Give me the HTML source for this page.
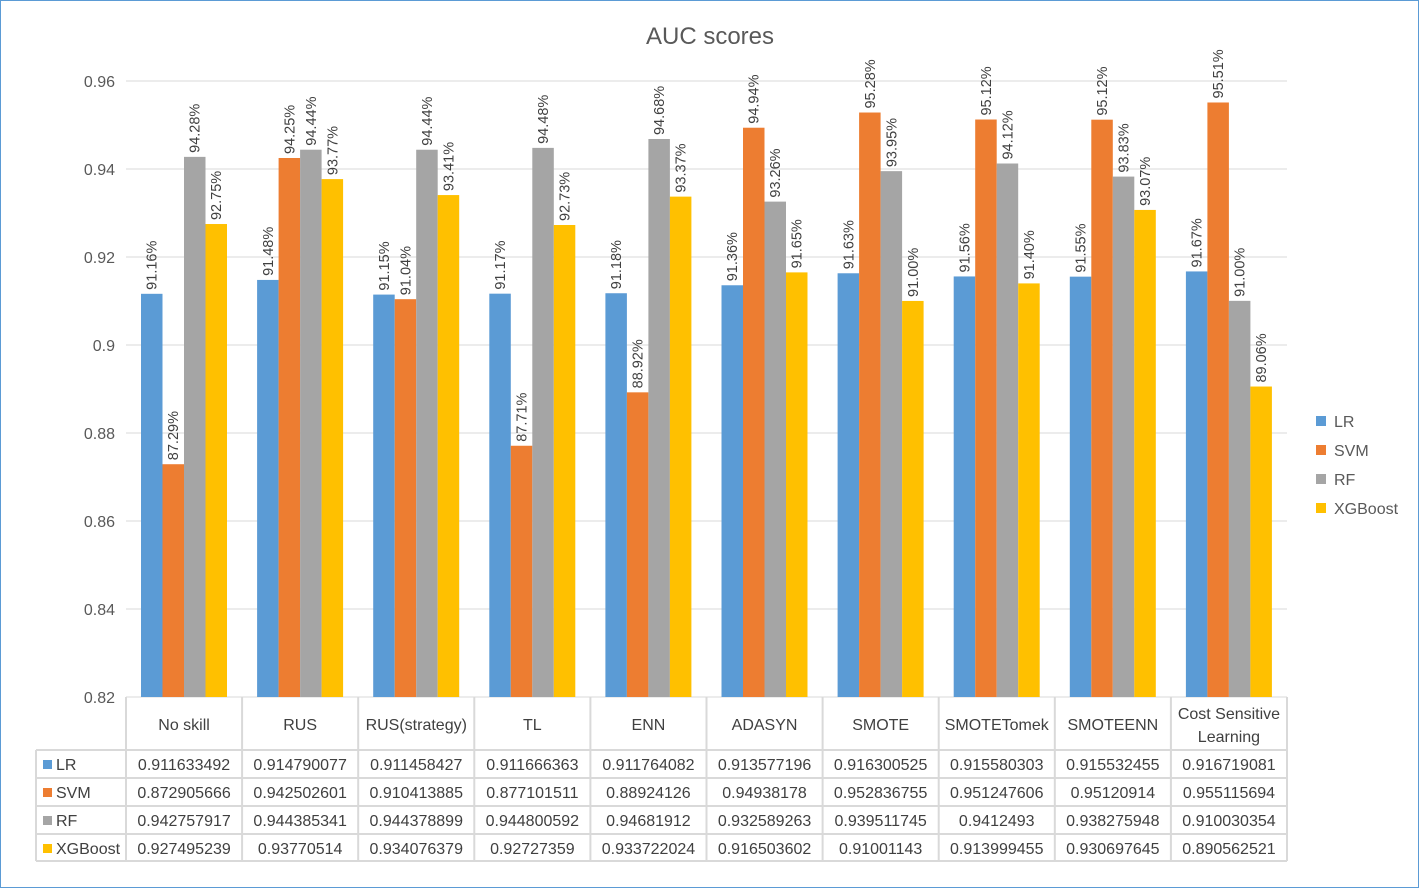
<!DOCTYPE html>
<html><head><meta charset="utf-8"><style>
html,body{margin:0;padding:0;background:#fff}
svg{display:block;font-family:"Liberation Sans",sans-serif}
</style></head><body>
<svg id="c" width="1419" height="888">
<rect x="0.5" y="0.5" width="1418" height="887" fill="#fff" stroke="#5b9bd5"/>
<text x="710" y="44" text-anchor="middle" font-size="24" fill="#595959">AUC scores</text>
</svg>
<script>
const categories=["No skill","RUS","RUS(strategy)","TL","ENN","ADASYN","SMOTE","SMOTETomek","SMOTEENN","Cost Sensitive|Learning"];
const seriesNames=["LR","SVM","RF","XGBoost"];
const colors=["#5b9bd5","#ed7d31","#a5a5a5","#ffc000"];
const lrVals=[0.911633492,0.914790077,0.911458427,0.911666363,0.911764082,0.913577196,0.916300525,0.915580303,0.915532455,0.916719081];
const svmVals=[0.872905666,0.942502601,0.910413885,0.877101511,0.88924126,0.94938178,0.952836755,0.951247606,0.95120914,0.955115694];
const rfVals=[0.942757917,0.944385341,0.944378899,0.944800592,0.94681912,0.932589263,0.939511745,0.9412493,0.938275948,0.910030354];
const xgbVals=[0.927495239,0.93770514,0.934076379,0.92727359,0.933722024,0.916503602,0.91001143,0.913999455,0.930697645,0.890562521];
const yTicks=[0.82,0.84,0.86,0.88,0.90,0.92,0.94,0.96];
const tickLabels=["0.82","0.84","0.86","0.88","0.9","0.92","0.94","0.96"];
const series=[lrVals,svmVals,rfVals,xgbVals];
const tableText=[
["0.911633492","0.914790077","0.911458427","0.911666363","0.911764082","0.913577196","0.916300525","0.915580303","0.915532455","0.916719081"],
["0.872905666","0.942502601","0.910413885","0.877101511","0.88924126","0.94938178","0.952836755","0.951247606","0.95120914","0.955115694"],
["0.942757917","0.944385341","0.944378899","0.944800592","0.94681912","0.932589263","0.939511745","0.9412493","0.938275948","0.910030354"],
["0.927495239","0.93770514","0.934076379","0.92727359","0.933722024","0.916503602","0.91001143","0.913999455","0.930697645","0.890562521"]];
const svg=document.getElementById('c');
const NS="http://www.w3.org/2000/svg";
const X0=126,X1=1287,Y0=697,Y1=81,ymin=0.82,ymax=0.96;
const cw=(X1-X0)/categories.length;
const y=v=>Y0-(v-ymin)/(ymax-ymin)*(Y0-Y1);
function mk(t,a,txt){const e=document.createElementNS(NS,t);for(const k in a)e.setAttribute(k,a[k]);if(txt!=null)e.textContent=txt;svg.appendChild(e);return e;}
yTicks.forEach((t,i)=>{
 const g=mk('line',{x1:X0,x2:X1,y1:y(t),y2:y(t),stroke:'#d9d9d9','stroke-width':1});
 
 
 const l=mk('text',{x:115,y:y(t)+6,'text-anchor':'end','font-size':16,fill:'#595959'},tickLabels[i]);
 
 
});
const bw=21.5;
series.forEach((vals,s)=>{
 vals.forEach((v,c)=>{
  const bx=X0+c*cw+15+s*bw;
  const r=mk('rect',{x:bx,y:y(v),width:bw,height:Y0-y(v),fill:colors[s]});
  
  
  const cx=bx+bw/2+5, ty=y(v)-4;
  const t=mk('text',{x:cx,y:ty,transform:`rotate(-90 ${cx} ${ty})`,'font-size':14.5,fill:'#404040'},(v*100).toFixed(2)+'%');
  
  
 });
});
// table
const rowY=[750,778,806,834,861];
const lc='#d9d9d9';
function ln(a){const e=mk('line',Object.assign({stroke:lc,'stroke-width':2},a));}
for(let i=0;i<=categories.length;i++)ln({x1:X0+i*cw,x2:X0+i*cw,y1:Y0,y2:861});
ln({x1:36,x2:36,y1:750,y2:861});
rowY.forEach(yy=>ln({x1:36,x2:X1,y1:yy,y2:yy}));
categories.forEach((c,i)=>{
 const parts=c.split('|');const cx=X0+(i+0.5)*cw;
 parts.forEach((p,j)=>{
  const t=mk('text',{x:cx,y:parts.length==1?730:719+j*23,'text-anchor':'middle','font-size':16,fill:'#404040'},p);
  
  
 });
});
seriesNames.forEach((n,s)=>{
 const yy=rowY[s]+20;
 const k=mk('rect',{x:43,y:yy-10,width:9,height:9,fill:colors[s]});
 
 
 const t=mk('text',{x:56,y:yy,'font-size':16,fill:'#404040'},n);
 
 
 tableText[s].forEach((v,c)=>{
  const tv=mk('text',{x:X0+(c+0.5)*cw,y:yy,'text-anchor':'middle','font-size':16,fill:'#404040'},v);
  
  
 });
 const ly=421+s*29;
 const lk=mk('rect',{x:1316,y:ly-5,width:10,height:10,fill:colors[s]});
 
 
 const lt=mk('text',{x:1334,y:ly+6,'font-size':16,fill:'#595959'},n);
 
 
});
</script>
</body></html>
